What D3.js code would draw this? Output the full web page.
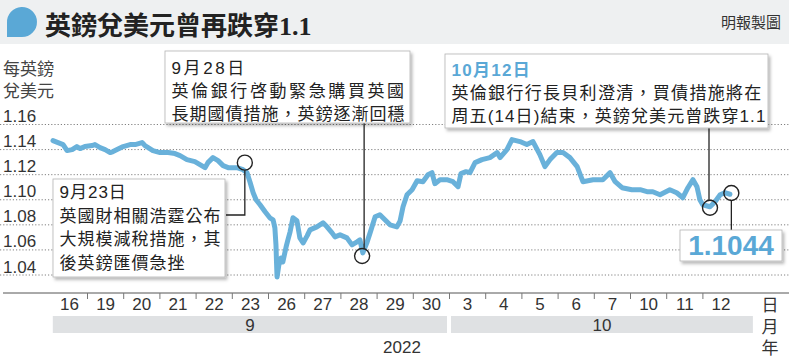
<!DOCTYPE html>
<html><head><meta charset="utf-8">
<script src="https://cdn.jsdelivr.net/npm/d3@7"></script>
<style>
body{margin:0;background:#fff}
svg{display:block}
text{font-family:"Liberation Sans","Noto Sans CJK TC",sans-serif}
</style>
</head><body>
<svg id="c" width="789" height="359"></svg>
<script>
// ---------- data ----------
const title = "英鎊兌美元曾再跌穿1.1";
const source = "明報製圖";
const yTitle = ["每英鎊", "兌美元"];
const yTicks = [1.04, 1.06, 1.08, 1.10, 1.12, 1.14, 1.16];
const dayLabels = ["16","19","20","21","22","23","26","27","28","29","30","3","4","5","6","7","10","11","12"];
const monthLabels = ["9", "10"];
const monthStart = [0, 11];
const monthEnd = [11, 19.45];
const yearLabel = "2022";
const unitLabels = ["日", "月", "年"];
// time in trading days since 16 Sep (0 = start of 16 Sep session)
const tDay = [0.06,0.20,0.34,0.45,0.59,0.72,0.81,0.94,1.14,1.22,1.36,1.50,1.64,1.72,1.83,2.00,2.19,2.33,2.52,2.60,2.69,2.82,3.02,3.24,3.43,3.57,3.76,3.98,4.12,4.26,4.34,4.48,4.62,4.76,4.90,5.14,5.31,5.42,5.50,5.59,5.67,5.78,5.92,6.05,6.14,6.19,6.22,6.235,6.25,6.30,6.36,6.41,6.50,6.55,6.61,6.69,6.80,6.88,6.97,7.08,7.16,7.35,7.52,7.63,7.77,7.85,7.99,8.18,8.32,8.46,8.54,8.62,8.73,8.82,8.96,9.09,9.23,9.37,9.56,9.65,9.73,9.84,9.98,10.12,10.28,10.42,10.53,10.61,10.75,10.94,11.11,11.25,11.33,11.47,11.58,11.72,11.91,12.13,12.33,12.41,12.60,12.74,12.96,13.15,13.32,13.51,13.65,13.79,13.98,14.15,14.34,14.54,14.70,14.98,15.25,15.45,15.59,15.78,16.05,16.28,16.47,16.63,16.83,17.10,17.29,17.46,17.60,17.74,17.85,17.93,18.01,18.21,18.35,18.49,18.62,18.76];
const rate = [1.1472,1.1456,1.1440,1.1392,1.1400,1.1424,1.1408,1.1424,1.1432,1.1440,1.1416,1.1400,1.1376,1.1384,1.1400,1.1424,1.1440,1.1440,1.1456,1.1432,1.1416,1.1392,1.1376,1.1376,1.1368,1.1352,1.1320,1.1304,1.1280,1.1256,1.1296,1.1336,1.1312,1.1272,1.1256,1.1256,1.1240,1.1216,1.1144,1.1056,1.1000,1.0960,1.0904,1.0856,1.0840,1.0776,1.0640,1.0504,1.0384,1.0480,1.0536,1.0504,1.0624,1.0680,1.0744,1.0856,1.0832,1.0696,1.0656,1.0712,1.0760,1.0784,1.0816,1.0784,1.0736,1.0704,1.0720,1.0696,1.0640,1.0664,1.0680,1.0576,1.0656,1.0736,1.0864,1.0880,1.0840,1.0800,1.0784,1.0832,1.0944,1.1040,1.1080,1.1152,1.1144,1.1200,1.1216,1.1128,1.1160,1.1160,1.1144,1.1104,1.1208,1.1224,1.1216,1.1296,1.1320,1.1336,1.1376,1.1336,1.1400,1.1480,1.1464,1.1440,1.1464,1.1360,1.1264,1.1320,1.1376,1.1376,1.1336,1.1264,1.1144,1.1160,1.1160,1.1216,1.1144,1.1096,1.1080,1.1080,1.1064,1.1064,1.1040,1.1080,1.1056,1.1016,1.1096,1.1160,1.1104,1.1000,1.0960,1.0944,1.0984,1.1040,1.1056,1.1044];
// annotated events
const eventT = [5.36, 8.60, 18.21, 18.80];
const eventV = [1.1296, 1.0552, 1.0936, 1.1054];
const note923 = ["9月23日","英國財相關浩霆公布","大規模減稅措施，其","後英鎊匯價急挫"];
const note928 = ["9月28日","英倫銀行啓動緊急購買英國","長期國債措施，英鎊逐漸回穩"];
const note1012 = ["10月12日","英倫銀行行長貝利澄清，買債措施將在","周五(14日)結束，英鎊兌美元曾跌穿1.1"];
const lastLabel = "1.1044";

// ---------- drawing ----------
const W = 789, H = 359;
const BLUE = "#69b1da";
const svg = d3.select("#c");
const defs = svg.append("defs");
const f = defs.append("filter").attr("id","sh").attr("x","-10%").attr("y","-10%").attr("width","130%").attr("height","140%");
f.append("feDropShadow").attr("dx",2).attr("dy",2.5).attr("stdDeviation",1.6).attr("flood-color","#000").attr("flood-opacity",0.28);

const x = d3.scaleLinear().domain([0, 20]).range([50.8, 50.8 + 20 * 36.2]);
const y = d3.scaleLinear().domain([1.04, 1.16]).range([275, 124.5]);

// header
svg.append("rect").attr("x",0).attr("y",0).attr("width",W).attr("height",44).attr("fill","#eef0f1");
svg.append("path").attr("d","M7,37 L7,23 A15,15 0 1,1 22,37 Z").attr("fill","#5aa8d6");
svg.append("text").attr("x",45).attr("y",35)
  .style("font-family",'"Liberation Serif","Noto Sans CJK TC",serif')
  .attr("font-weight",700).attr("font-size",26).attr("fill","#222").text(title);
svg.append("text").attr("x",781).attr("y",28).attr("text-anchor","end")
  .attr("font-size",15).attr("fill","#333").text(source);

// y title
yTitle.forEach((s,i)=>svg.append("text").attr("x",3).attr("y",75+i*22).attr("font-size",17).attr("fill","#444").text(s));

// grid + y labels
const gy = svg.append("g");
gy.selectAll("line").data(yTicks).join("line")
  .attr("x1",0).attr("x2",W).attr("y1",d=>y(d)).attr("y2",d=>y(d))
  .attr("stroke","#808080").attr("stroke-width",1).attr("stroke-dasharray","1.2,2");
gy.selectAll("text").data(yTicks).join("text")
  .attr("x",3).attr("y",d=>y(d)-2.5).attr("font-size",17).attr("fill","#333")
  .text(d=>d3.format(".2f")(d));

// x axis
svg.append("line").attr("x1",3).attr("x2",W).attr("y1",293).attr("y2",293).attr("stroke","#555").attr("stroke-width",1);
const axT = d3.axisBottom(x).tickValues(d3.range(1, dayLabels.length)).tickSize(6).tickFormat("");
const gax = svg.append("g").attr("transform","translate(0,293)").call(axT);
gax.select(".domain").remove();
gax.selectAll(".tick line").attr("stroke","#777");
const axL = d3.axisBottom(x).tickValues(dayLabels.map((d,i)=>i+0.5)).tickSize(0).tickFormat((d,i)=>dayLabels[i]);
const gal = svg.append("g").attr("transform","translate(0,293)").call(axL);
gal.select(".domain").remove();
gal.selectAll("text").attr("font-size",17).attr("fill","#333").attr("dy",0).attr("y",17)
  .style("font-family",'"Liberation Sans",sans-serif');

// month bands
monthLabels.forEach((m,i)=>{
  const x0 = x(monthStart[i]) + 2, x1 = x(monthEnd[i]) - 2;
  svg.append("rect").attr("x",x0).attr("y",316).attr("width",x1-x0).attr("height",17).attr("fill","#dfe1e3");
  svg.append("text").attr("x",(x0+x1)/2).attr("y",331).attr("text-anchor","middle").attr("font-size",17).attr("fill","#333").text(m);
});
svg.append("text").attr("x",402).attr("y",353).attr("text-anchor","middle").attr("font-size",17).attr("fill","#333").text(yearLabel);
unitLabels.forEach((s,i)=>svg.append("text").attr("x",770).attr("y",311+i*21.5).attr("text-anchor","middle").attr("font-size",17).attr("fill","#333").text(s));

// line
const line = d3.line().x((d,i)=>x(tDay[i])).y(d=>y(d)).curve(d3.curveLinear);
svg.append("path").datum(rate).attr("d",line).attr("fill","none")
  .attr("stroke",BLUE).attr("stroke-width",5).attr("stroke-linejoin","round").attr("stroke-linecap","round");

// leaders & circles
const R = 7.5;
const ex = eventT.map(x), ey = eventV.map(y);
const lead = svg.append("g").attr("stroke","#222").attr("stroke-width",1.3).attr("fill","none");
lead.append("path").attr("d",`M${ex[0]},${ey[0]+R} V215 H226`);
lead.append("path").attr("d",`M${ex[1]+2},122 V${ey[1]-R}`);
lead.append("path").attr("d",`M${ex[2]-1},128 V${ey[2]-R}`);
lead.append("path").attr("d",`M${ex[3]},${ey[3]+R} V230`);
svg.append("g").selectAll("circle").data(eventT).join("circle")
  .attr("cx",(d,i)=>ex[i]).attr("cy",(d,i)=>ey[i]).attr("r",R)
  .attr("fill","none").attr("stroke","#222").attr("stroke-width",1.4);

// boxes
function box(bx, by, bw, bh, lines, ls, base0, step, firstBlue){
  const g = svg.append("g");
  g.append("rect").attr("x",bx).attr("y",by).attr("width",bw).attr("height",bh)
    .attr("fill","#fff").attr("stroke","#b5b5b5").attr("stroke-width",0.8).attr("filter","url(#sh)");
  lines.forEach((s,i)=>{
    g.append("text").attr("x",bx+6.5).attr("y",base0+i*step).attr("font-size",17)
      .attr("letter-spacing",ls[i])
      .attr("fill", (i===0 && firstBlue) ? "#5aa8d6" : "#222")
      .attr("font-weight", (i===0 && firstBlue) ? 700 : 400)
      .text(s);
  });
}
box(165, 51, 245, 72, note928, [2.6,2.6,1.0], 74, 23, false);
box(53, 179, 172, 98, note923, [1.0,1.0,1.0,1.0], 198, 23.7, false);
box(445, 54, 323, 74, note1012, [1.3,1.3,1.1], 76, 23, true);

// last value box
const lb = svg.append("g");
lb.append("rect").attr("x",680).attr("y",230).attr("width",102).attr("height",31)
  .attr("fill","#fff").attr("stroke","#b5b5b5").attr("stroke-width",0.8).attr("filter","url(#sh)");
lb.append("text").attr("x",731).attr("y",255).attr("text-anchor","middle").attr("font-size",28)
  .attr("font-weight",700).attr("fill","#5aa8d6").style("font-family",'"Liberation Sans",Arial,sans-serif').text(lastLabel);
</script>
</body></html>
